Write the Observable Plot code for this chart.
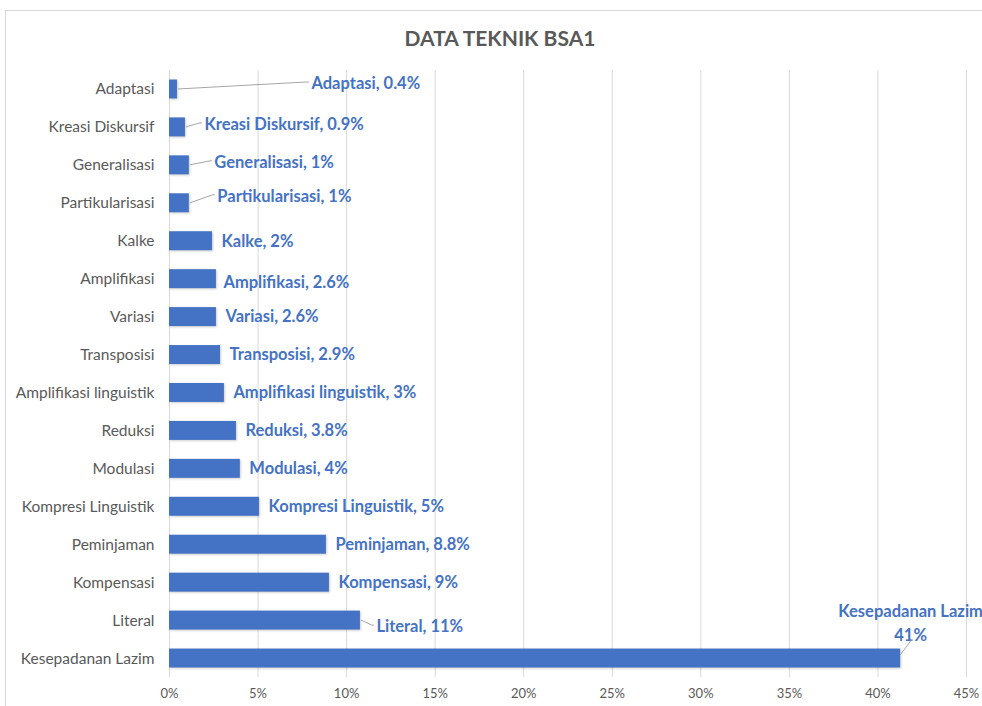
<!DOCTYPE html>
<html>
<head>
<meta charset="utf-8">
<script src="https://cdn.jsdelivr.net/npm/d3@7"></script>
<script src="https://cdn.jsdelivr.net/npm/@observablehq/plot@0.6"></script>
<style>
  body { margin: 0; background: #fff; font-family: Lato, "Open Sans", sans-serif; }
  #wrap { position: relative; width: 982px; height: 706px; overflow: hidden; }
  .frame { position: absolute; left: 5px; top: 10px; width: 1000px; height: 720px; border: 1px solid #d9d9d9; box-sizing: border-box; }
  .title { position: absolute; left: 0; width: 1000px; top: 25px; text-align: center; font: bold 21px Lato, sans-serif; color: #595959; }
  #chart { position: absolute; left: 0; top: 0; }
</style>
</head>
<body>
<div id="wrap">
  <div class="frame"></div>
  <div class="title">DATA TEKNIK BSA1</div>
  <div id="chart"></div>
</div>
<script>
const categories = ["Adaptasi","Kreasi Diskursif","Generalisasi","Partikularisasi","Kalke","Amplifikasi","Variasi","Transposisi","Amplifikasi linguistik","Reduksi","Modulasi","Kompresi Linguistik","Peminjaman","Kompensasi","Literal","Kesepadanan Lazim"];
const values = [0.45, 0.9, 1.12, 1.12, 2.43, 2.65, 2.65, 2.88, 3.1, 3.78, 4.0, 5.08, 8.86, 9.03, 10.78, 41.28];
const valueLabels = ["0.4%","0.9%","1%","1%","2%","2.6%","2.6%","2.9%","3%","3.8%","4%","5%","8.8%","9%","11%","41%"];
const xTicks = [0, 5, 10, 15, 20, 25, 30, 35, 40, 45];

const data = categories.map((c, i) => ({cat: c, value: values[i], label: valueLabels[i]}));

// label placement (pixel offsets from bar end) – styling only
const callout = {
  "Adaptasi": {dx: 134, dy: -6, leader: true},
  "Kreasi Diskursif": {dx: 19, dy: -3, leader: true},
  "Generalisasi": {dx: 25, dy: -3, leader: true},
  "Partikularisasi": {dx: 28, dy: -7, leader: true},
  "Amplifikasi": {dx: 7, dy: 4},
  "Literal": {dx: 16, dy: 6, leader: true}
};
const defaultOff = {dx: 9, dy: 0};
const blue = "#4472C4";
const gray = "#595959";
const labelSize = 16.5;

const normal = data.filter(d => !(d.cat in callout) && d.cat !== "Kesepadanan Lazim");
const special = data.filter(d => d.cat in callout);
const last = data.filter(d => d.cat === "Kesepadanan Lazim");

const textMarks = [
  Plot.text(normal, {x: "value", y: "cat", text: d => `${d.cat}, ${d.label}`, textAnchor: "start", dx: defaultOff.dx, dy: defaultOff.dy, fill: blue, fontWeight: "bold", fontSize: labelSize}),
  ...special.map(d => Plot.text([d], {x: "value", y: "cat", text: d => `${d.cat}, ${d.label}`, textAnchor: "start", dx: callout[d.cat].dx, dy: callout[d.cat].dy, fill: blue, fontWeight: "bold", fontSize: labelSize})),
  Plot.text(last, {x: "value", y: "cat", text: d => `${d.cat}\n${d.label}`, textAnchor: "middle", lineAnchor: "bottom", lineHeight: 1.4, dx: 10, dy: -18, fill: blue, fontWeight: "bold", fontSize: labelSize})
];

const chart = Plot.plot({
  width: 982,
  height: 706,
  marginLeft: 169,
  marginRight: 16,
  marginTop: 70,
  marginBottom: 29,
  style: {fontFamily: "Lato, 'Open Sans', sans-serif", background: "transparent", overflow: "visible"},
  x: {domain: [0, 45], label: null},
  y: {domain: categories, paddingInner: 0.5, paddingOuter: 0.25, round: false, label: null},
  marks: [
    Plot.gridX(xTicks, {stroke: "#d9d9d9", strokeOpacity: 1}),
    Plot.barX(data, {x: "value", y: "cat", fill: blue}),
    Plot.axisX(xTicks, {tickSize: 0, tickPadding: 11, tickFormat: d => d + "%", fill: gray, fontSize: 13, label: null}),
    Plot.axisY({tickSize: 0, tickPadding: 15, fill: gray, fontSize: 15.5, label: null}),
    ...textMarks
  ]
});

document.getElementById("chart").appendChild(chart);

// leader lines drawn through the chart's scales
const sx = chart.scale("x"), sy = chart.scale("y");
const svg = d3.select(chart);
const half = sy.bandwidth / 2;
const g = svg.append("g").attr("stroke", "#a6a6a6").attr("stroke-width", 1).attr("fill", "none");
special.filter(d => callout[d.cat].leader).forEach(d => {
  const x0 = sx.apply(d.value), y0 = sy.apply(d.cat) + half;
  const o = callout[d.cat];
  g.append("path").attr("d", `M${x0 + 1},${y0} L${x0 + o.dx - 4},${y0 + o.dy - 1} L${x0 + o.dx - 2},${y0 + o.dy - 1}`);
});
last.forEach(d => {
  const x0 = sx.apply(d.value), y0 = sy.apply(d.cat) + half;
  g.append("path").attr("d", `M${x0},${y0 - 3} L${x0 + 12},${y0 - 19}`);
});
svg.selectAll("rect").style("filter", "drop-shadow(1px 1px 1px rgba(0,0,0,0.2))");
</script>
</body>
</html>
